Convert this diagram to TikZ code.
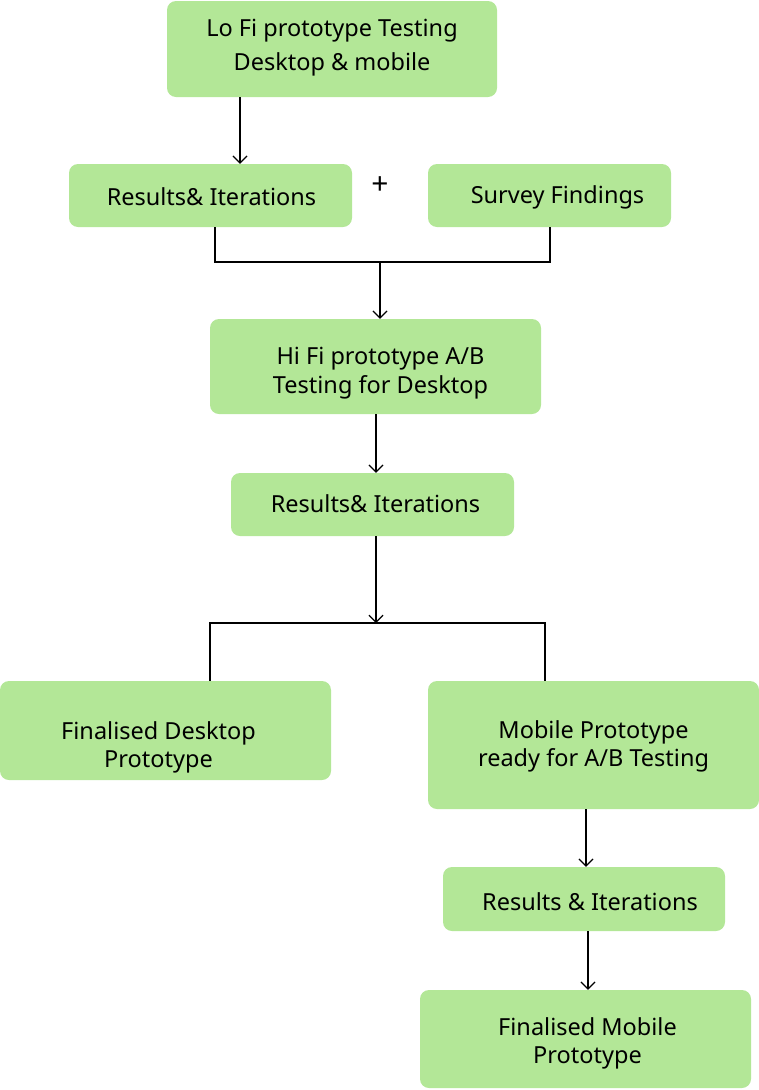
\documentclass[tikz,border=0pt]{standalone}
\usepackage{fontspec}
\setmainfont{Noto Sans}
\usetikzlibrary{arrows.meta}
\definecolor{boxgreen}{HTML}{B3E797}
\tikzset{
  box/.style={fill=boxgreen, draw=none, rounded corners=9pt, inner sep=0pt},
  label/.style={font=\fontsize{23.5}{28.5}\selectfont, align=center, inner sep=0pt},
  conn/.style={draw=black, line width=1.2pt},
  arr/.style={conn, -{Straight Barb[length=7pt,width=14pt,line width=1.2pt]}}
}
\newcommand{\bx}[8]{% name, x1, y1, x2, y2, text dx, text dy, text
  \node[box, minimum width={#4-#2}, minimum height={#5-#3}] (#1) at ({(#2+#4)/2},{(#3+#5)/2}) {};
  \node[label] (#1t) at ({(#2+#4)/2+#6},{(#3+#5)/2+#7}) {#8};
}
\begin{document}
\begin{tikzpicture}[x=1pt,y=-1pt]
\useasboundingbox (0,0) rectangle (759,1090);
\bx{lofi}{167}{1}{497}{97}{0}{-1.5}{Lo Fi prototype Testing\\[5pt]Desktop \& mobile}
\bx{res1}{69}{164}{352}{227}{1}{1.5}{Results\& Iterations}
\bx{survey}{428}{164}{671}{227}{8}{1.5}{Survey Findings}
\node[font=\fontsize{30}{30}\selectfont\bfseries, inner sep=0pt] (plus) at (380,186) {+};
\bx{hifi}{210}{319}{541}{414}{5}{6.5}{Hi Fi prototype A/B\\Testing for Desktop}
\bx{res2}{231}{473}{514}{536}{3}{-1}{Results\& Iterations}
\bx{findesk}{0}{681}{331}{780}{-7}{17}{Finalised Desktop\\Prototype}
\bx{mobile}{428}{681}{759}{809}{0}{1.5}{Mobile Prototype\\ready for A/B Testing}
\bx{res3}{443}{867}{725}{931}{6}{3}{Results \& Iterations}
\bx{finmob}{420}{990}{751}{1088}{2}{4.5}{Finalised Mobile\\Prototype}

\coordinate (j1) at (380,262);
\coordinate (j2) at (376,623);

\draw[arr] (lofi.south -| 240,0) -- (res1.north -| 240,0);
\draw[conn] (res1.south -| 215,0) |- (j1) -| (survey.south -| 550,0);
\draw[arr] (j1) -- (hifi.north -| j1);
\draw[arr] (hifi.south -| 376,0) -- (res2.north -| 376,0);
\draw[arr] (res2.south -| j2) -- (j2);
\draw[conn] (findesk.north -| 210,0) |- (j2) -| (mobile.north -| 545,0);
\draw[arr] (mobile.south -| 586,0) -- (res3.north -| 586,0);
\draw[arr] (res3.south -| 588,0) -- (finmob.north -| 588,0);
\end{tikzpicture}
\end{document}
